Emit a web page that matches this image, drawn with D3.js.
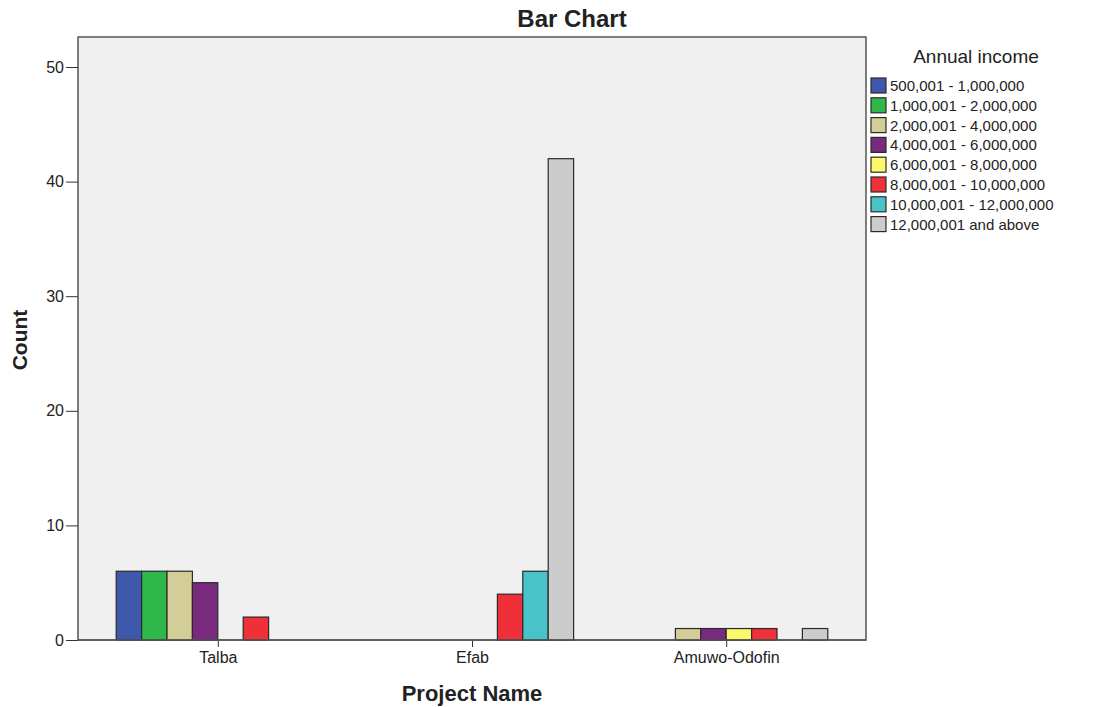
<!DOCTYPE html>
<html>
<head>
<meta charset="utf-8">
<script src="https://cdn.jsdelivr.net/npm/d3@7"></script>
<style>
  body { margin: 0; background: #fff; }
  text { font-family: "Liberation Sans", Arial, sans-serif; fill: #222; }
</style>
</head>
<body>
<svg id="chart" width="1097" height="707"></svg>
<script>
// data
var projects = ["Talba", "Efab", "Amuwo-Odofin"];
var incomeGroups = ["500,001 - 1,000,000", "1,000,001 - 2,000,000", "2,000,001 - 4,000,000",
  "4,000,001 - 6,000,000", "6,000,001 - 8,000,000", "8,000,001 - 10,000,000",
  "10,000,001 - 12,000,000", "12,000,001 and above"];
var talbaCounts = [6, 6, 6, 5, 0, 2, 0, 0];
var efabCounts = [0, 0, 0, 0, 0, 4, 6, 42];
var amuwoCounts = [0, 0, 1, 1, 1, 1, 0, 1];
var groupColors = ["#3e58ac", "#2eb84a", "#d3ce97", "#792a7e", "#fbf869", "#ef3038", "#48c4c8", "#cccccc"];
var yTicks = [0, 10, 20, 30, 40, 50];

var counts = [talbaCounts, efabCounts, amuwoCounts];

var svg = d3.select("#chart");
// plot box (window.top is reserved, so use other names)
var plotLeft = 78, plotRight = 866, plotTop = 37, plotBottom = 640;

var x = d3.scalePoint().domain(projects).range([plotLeft, plotRight]).padding(0.55);
var x1 = d3.scaleBand().domain(incomeGroups).range([-101.6, 101.6]);
var y = d3.scaleLinear().domain([0, 50]).range([plotBottom, 67]);

// plot background
svg.append("rect")
  .attr("x", plotLeft).attr("y", plotTop)
  .attr("width", plotRight - plotLeft).attr("height", plotBottom - plotTop)
  .attr("fill", "#f0f0f0")
  .attr("stroke", "#555").attr("stroke-width", 1.5);

// bars
projects.forEach(function(p, i) {
  var g = svg.append("g").attr("transform", "translate(" + x(p) + ",0)");
  g.selectAll("rect")
    .data(counts[i].map(function(v, j) { return {group: incomeGroups[j], value: v, color: groupColors[j]}; })
      .filter(function(d) { return d.value > 0; }))
    .enter().append("rect")
    .attr("x", function(d) { return x1(d.group); })
    .attr("width", x1.bandwidth())
    .attr("y", function(d) { return y(d.value); })
    .attr("height", function(d) { return y(0) - y(d.value); })
    .attr("fill", function(d) { return d.color; })
    .attr("stroke", "#2a2a2a").attr("stroke-width", 1.2);
});

// axes
var yAxis = svg.append("g")
  .attr("transform", "translate(" + plotLeft + ",0)")
  .call(d3.axisLeft(y).tickValues(yTicks).tickSize(12).tickPadding(2));
yAxis.select(".domain").remove();
yAxis.selectAll("line").attr("stroke", "#333");
yAxis.selectAll("text").style("font-size", "16px").style("font-family", "Liberation Sans, Arial").attr("fill", "#222");

var xAxis = svg.append("g")
  .attr("transform", "translate(0," + plotBottom + ")")
  .call(d3.axisBottom(x).tickSize(7).tickPadding(5));
xAxis.select(".domain").remove();
xAxis.selectAll("line").attr("stroke", "#333");
xAxis.selectAll("text").style("font-size", "16px").style("font-family", "Liberation Sans, Arial").attr("fill", "#222");

// redraw baseline over bars
svg.append("line")
  .attr("x1", plotLeft).attr("x2", plotRight).attr("y1", plotBottom).attr("y2", plotBottom)
  .attr("stroke", "#555").attr("stroke-width", 1.5);

// titles
svg.append("text")
  .attr("x", 572).attr("y", 27)
  .attr("text-anchor", "middle")
  .style("font-size", "24px").style("font-weight", "bold")
  .text("Bar Chart");

svg.append("text")
  .attr("x", 472).attr("y", 701)
  .attr("text-anchor", "middle")
  .style("font-size", "22px").style("font-weight", "bold")
  .text("Project Name");

svg.append("text")
  .attr("transform", "translate(27,340) rotate(-90)")
  .attr("text-anchor", "middle")
  .style("font-size", "21px").style("font-weight", "bold")
  .text("Count");

// legend
var legend = svg.append("g").attr("transform", "translate(871,0)");
legend.append("text")
  .attr("x", 105).attr("y", 63)
  .attr("text-anchor", "middle")
  .style("font-size", "19px")
  .text("Annual income");

var item = legend.selectAll("g.item")
  .data(incomeGroups)
  .enter().append("g")
  .attr("class", "item")
  .attr("transform", function(d, i) { return "translate(0," + (78 + i * 19.8) + ")"; });
item.append("rect")
  .attr("width", 15).attr("height", 15)
  .attr("fill", function(d, i) { return groupColors[i]; })
  .attr("stroke", "#2a2a2a").attr("stroke-width", 1.2);
item.append("text")
  .attr("x", 19).attr("y", 13)
  .style("font-size", "15px")
  .text(function(d) { return d; });
</script>
</body>
</html>
